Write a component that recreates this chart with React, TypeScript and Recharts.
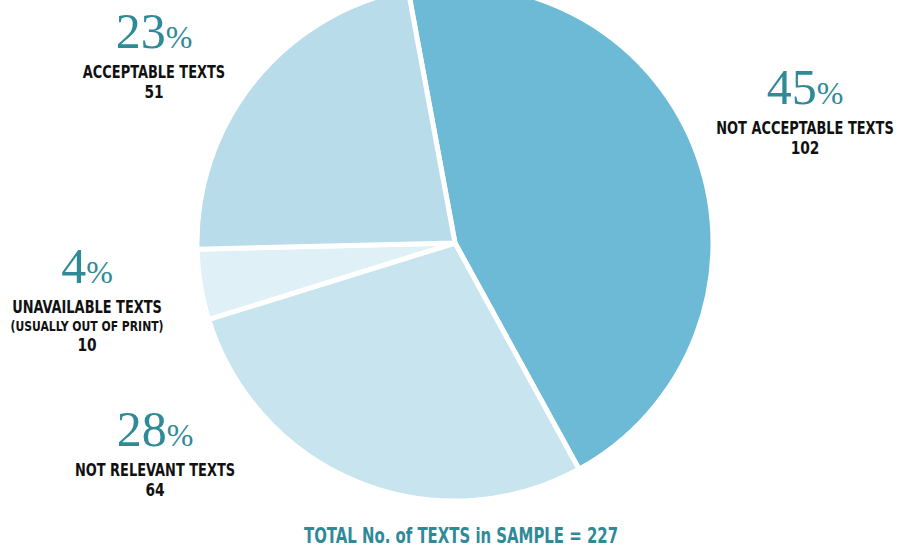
import { PieChart, Pie, Cell } from 'recharts';

// slice data, clockwise from the top
const categories = ['NOT ACCEPTABLE TEXTS', 'NOT RELEVANT TEXTS', 'UNAVAILABLE TEXTS', 'ACCEPTABLE TEXTS'];
const counts = [102, 64, 10, 51];
const percents = [45, 28, 4, 23];
const notes = ['', '', '(USUALLY OUT OF PRINT)', ''];
const totalLabel = 'TOTAL No. of TEXTS in SAMPLE = 227';

const SLICE_COLORS = ['#6cbad6', '#c8e5ef', '#dff0f6', '#b8dcea'];
const TEAL = '#2f8a98';

// where each label block sits (centre x, baseline of the big number)
const LABEL_POS = [
  { x: 805, y: 104 },
  { x: 155, y: 446 },
  { x: 87, y: 283 },
  { x: 154, y: 48 },
];

const data = categories.map((name, i) => ({ name, value: counts[i], pct: percents[i], note: notes[i] }));

const CONDENSED = '"DejaVu Sans Condensed", "Liberation Sans Narrow", sans-serif';

// bold condensed caption, squeezed horizontally to look like the original narrow face
const Caption = ({ x, y, size, sx, fill = '#111', children }: any) => (
  <g transform={`translate(${x},${y}) scale(${sx},1)`}>
    <text x={0} y={0} textAnchor="middle" fill={fill} fontFamily={CONDENSED} fontWeight="bold" fontSize={size}>
      {children}
    </text>
  </g>
);

export default function App() {
  return (
    <div style={{ position: 'absolute', left: 0, top: 0, width: 901, height: 552, background: '#fff' }}>
      <PieChart width={901} height={552} margin={{ top: 0, right: 0, bottom: 0, left: 0 }}>
        <Pie
          data={data}
          dataKey="value"
          cx={455}
          cy={243}
          outerRadius={258}
          startAngle={100.5}
          endAngle={-259.5}
          stroke="#ffffff"
          strokeWidth={5}
          isAnimationActive={false}
        >
          {data.map((d, i) => (
            <Cell key={d.name} fill={SLICE_COLORS[i]} />
          ))}
        </Pie>
      </PieChart>
      <svg width={901} height={552} style={{ position: 'absolute', left: 0, top: 0, pointerEvents: 'none' }}>
        {data.map((d, i) => {
          const p = LABEL_POS[i];
          let y = p.y + 30;
          return (
            <g key={d.name}>
              <text x={p.x} y={p.y} textAnchor="middle" fill={TEAL} fontFamily='"Liberation Serif", serif'>
                <tspan fontSize={50}>{d.pct}</tspan>
                <tspan fontSize={32}>%</tspan>
              </text>
              <Caption x={p.x} y={y} size={18} sx={0.8}>{d.name}</Caption>
              {d.note && <Caption x={p.x} y={(y += 18)} size={14} sx={0.86}>{d.note}</Caption>}
              <Caption x={p.x} y={(y += 20)} size={18} sx={0.85}>{d.value}</Caption>
            </g>
          );
        })}
        <Caption x={461} y={543} size={21} sx={0.79} fill={TEAL}>{totalLabel}</Caption>
      </svg>
    </div>
  );
}
